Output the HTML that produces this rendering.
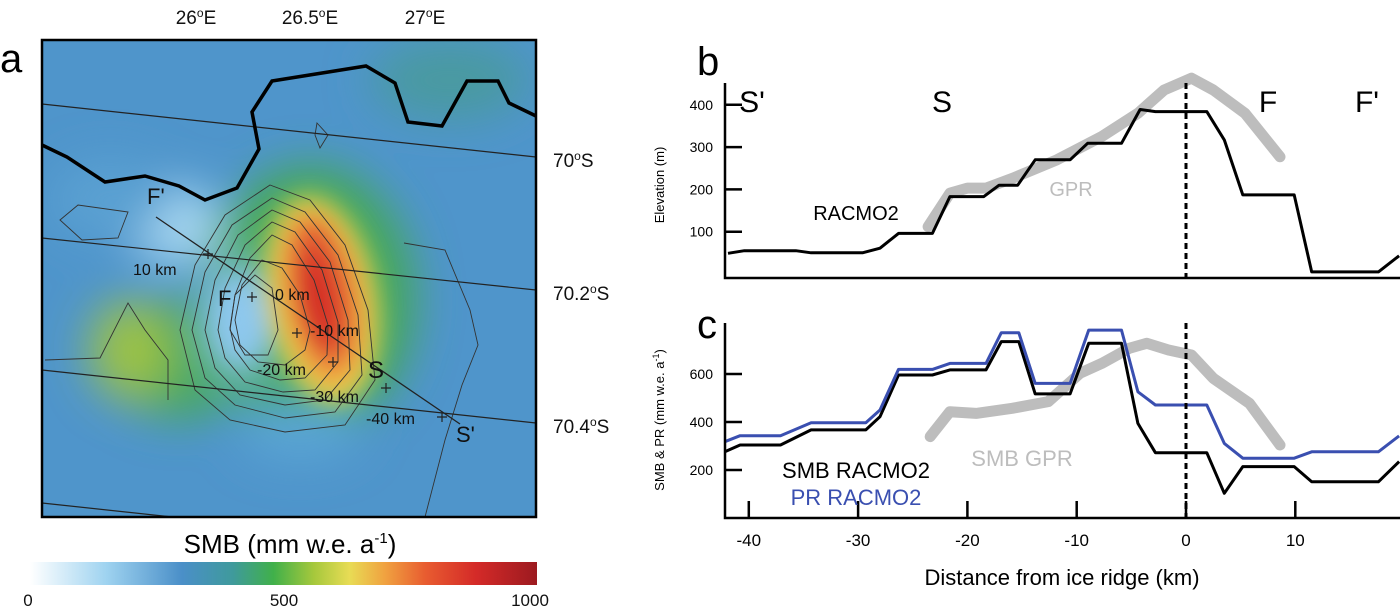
<!DOCTYPE html>
<html><head><meta charset="utf-8"><style>
body{margin:0;background:#fff;width:1400px;height:608px;overflow:hidden}
svg{display:block;font-family:"Liberation Sans",sans-serif}
</style></head><body>
<svg id="fig" width="1400" height="608" viewBox="0 0 1400 608">
<defs>
<filter id="blur" x="-50%" y="-50%" width="200%" height="200%"><feGaussianBlur stdDeviation="22"/></filter>
<filter id="blur2" x="-50%" y="-50%" width="200%" height="200%"><feGaussianBlur stdDeviation="12"/></filter>
<clipPath id="mapclip"><rect x="42" y="40" width="494" height="477"/></clipPath>
<linearGradient id="cbar" x1="0" x2="1" y1="0" y2="0">
<stop offset="0" stop-color="#ffffff"/><stop offset="0.15" stop-color="#9fd3f0"/><stop offset="0.3" stop-color="#4a8fc8"/>
<stop offset="0.4" stop-color="#3f9a9c"/><stop offset="0.48" stop-color="#40b04a"/><stop offset="0.56" stop-color="#a6c83c"/>
<stop offset="0.63" stop-color="#e8dc55"/><stop offset="0.7" stop-color="#f0a240"/><stop offset="0.78" stop-color="#e85c30"/>
<stop offset="0.88" stop-color="#d42a28"/><stop offset="1" stop-color="#9c1a20"/></linearGradient>
</defs>

<!-- Panel a -->
<text x="0" y="72" font-size="40">a</text>
<g>
<g clip-path="url(#mapclip)">
<rect x="42" y="40" width="494" height="477" fill="#4f95cb"/>
<g filter="url(#blur)">
<ellipse cx="450" cy="80" rx="80" ry="40" fill="#4a9aa0"/>
<ellipse cx="180" cy="360" rx="70" ry="60" fill="#46a860"/>
<ellipse cx="310" cy="300" rx="105" ry="135" fill="#45a856"/>
<ellipse cx="130" cy="350" rx="40" ry="50" fill="#9cc244"/>
<ellipse cx="175" cy="225" rx="45" ry="40" fill="#a8d8f2"/>
<ellipse cx="240" cy="320" rx="30" ry="55" fill="#8ec8ee"/>
<ellipse cx="110" cy="200" rx="60" ry="40" fill="#5aa0d2"/>
<ellipse cx="300" cy="430" rx="60" ry="30" fill="#5aa5d4"/>
</g>
<g filter="url(#blur2)">
<ellipse cx="322" cy="300" rx="55" ry="105" fill="#e8d850" transform="rotate(-10 322 300)"/>
<ellipse cx="322" cy="298" rx="42" ry="90" fill="#f0a040" transform="rotate(-10 322 298)"/>
<ellipse cx="322" cy="292" rx="30" ry="75" fill="#e35a30" transform="rotate(-10 322 292)"/>
<ellipse cx="318" cy="300" rx="18" ry="52" fill="#d42a28" transform="rotate(-10 318 300)"/>
<ellipse cx="240" cy="320" rx="22" ry="40" fill="#8ec8ee"/>
</g>
<g fill="none" stroke="#333" stroke-width="0.9">
<path d="M60,220 L78,205 L128,212 L118,238 L82,240 Z"/>
<path d="M317,123 L328,135 L320,148 L315,135 Z"/>
<path d="M45,360 L100,358 L128,303 L145,330 L168,360 L168,400"/>
<path d="M404,243 L445,250 L470,310 L478,345 L462,385 L445,440 L425,517"/>
<polygon points="270,185 310,200 345,245 368,310 375,380 345,425 285,432 230,420 195,390 180,330 195,265 225,215"/>
<polygon points="272,198 305,212 338,255 358,315 362,375 335,412 285,418 235,405 205,378 192,330 205,272 232,225"/>
<polygon points="272,210 300,222 330,262 348,320 350,370 325,400 285,405 240,395 215,368 205,330 215,280 238,235"/>
<polygon points="272,222 295,232 322,270 338,322 338,362 315,390 283,392 245,382 225,358 218,330 225,288 245,245"/>
<polygon points="272,235 292,245 314,280 328,325 327,355 305,378 280,380 250,370 235,350 230,328 235,295 250,258"/>
<polygon points="262,260 282,268 300,295 310,330 305,350 285,365 258,362 240,345 235,320 242,285"/>
<polygon points="255,275 272,288 278,330 268,355 245,355 230,330 235,295"/>
</g>
<g fill="none" stroke="#222" stroke-width="1.2">
<line x1="42" y1="104" x2="536" y2="157"/>
<line x1="42" y1="238" x2="536" y2="290"/>
<line x1="42" y1="370" x2="536" y2="423"/>
<line x1="42" y1="503" x2="536" y2="556"/>
</g>
<polyline fill="none" stroke="#000" stroke-width="3.5" points="42,145 67,157 105,182 145,176 179,186 205,200 237,188 259,149 252,112 272,81 366,66 395,83 408,122 442,126 467,81 498,81 509,103 536,116"/>
<line x1="156" y1="217" x2="460" y2="424" stroke="#222" stroke-width="1.3"/>
<g stroke="#222" stroke-width="1.2">
<path d="M203,254h10M208,249v10M247,297h10M252,292v10M292,333h10M297,328v10M328,362h10M333,357v10M381,388h10M386,383v10M437,417h10M442,412v10"/>
</g>
</g>
<rect x="42" y="40" width="494" height="477" fill="none" stroke="#000" stroke-width="2.5"/>
</g>
<g font-size="16" fill="#111">
<text x="147" y="204" font-size="22">F'</text>
<text x="133" y="275">10 km</text>
<text x="218" y="306" font-size="22">F</text>
<text x="275" y="300">0 km</text>
<text x="310" y="336">-10 km</text>
<text x="257" y="375">-20 km</text>
<text x="368" y="378" font-size="24">S</text>
<text x="310" y="402">-30 km</text>
<text x="366" y="424">-40 km</text>
<text x="456" y="442" font-size="22">S'</text>
</g>
<g font-size="19" fill="#111">
<text x="196" y="24" text-anchor="middle">26<tspan font-size="12" dy="-7">o</tspan><tspan dy="7">E</tspan></text>
<text x="310" y="24" text-anchor="middle">26.5<tspan font-size="12" dy="-7">o</tspan><tspan dy="7">E</tspan></text>
<text x="425" y="24" text-anchor="middle">27<tspan font-size="12" dy="-7">o</tspan><tspan dy="7">E</tspan></text>
<text x="553" y="167">70<tspan font-size="12" dy="-7">o</tspan><tspan dy="7">S</tspan></text>
<text x="553" y="300">70.2<tspan font-size="12" dy="-7">o</tspan><tspan dy="7">S</tspan></text>
<text x="553" y="433">70.4<tspan font-size="12" dy="-7">o</tspan><tspan dy="7">S</tspan></text>
</g>
<text x="290" y="553" font-size="26" text-anchor="middle">SMB (mm w.e. a<tspan font-size="15" dy="-10">-1</tspan><tspan dy="10">)</tspan></text>
<rect x="30" y="562" width="507" height="23" fill="url(#cbar)"/>
<g font-size="17" fill="#111" text-anchor="middle">
<text x="28" y="606">0</text><text x="284" y="606">500</text><text x="530" y="606">1000</text>
</g>

<!-- Panels b, c -->
<text x="697" y="75" font-size="40">b</text>
<text x="697" y="338" font-size="40">c</text>
<g id="charts"></g>
</svg>
<script>
const xTicks=[-40,-30,-20,-10,0,10];
const elevTicks=[100,200,300,400];
const smbTicks=[200,400,600];
const racmoElevKm=[-41.9,-40.4,-35.7,-34.3,-29.6,-28.0,-26.3,-23.2,-21.6,-18.5,-17.1,-15.4,-13.8,-10.6,-9.0,-5.9,-4.2,-2.8,1.9,3.5,5.2,9.9,11.5,17.6,19.5];
const racmoElev=[49,55,55,50,50,61,96,96,183,183,210,210,270,270,309,309,389,384,384,317,187,187,5,5,43];
const gprElevKm=[-23.6,-21.6,-20.0,-18.3,-15.9,-11.8,-7.7,-4.4,-2.0,0.5,2.5,5.4,8.6];
const gprElev=[112,191,203,203,226,270,325,380,435,463,435,380,277];
const smbKm=[-42.2,-40.8,-37.1,-34.3,-29.3,-28.0,-26.3,-23.2,-21.6,-18.3,-16.9,-15.3,-13.8,-10.6,-8.9,-5.9,-4.4,-2.8,1.9,3.5,5.2,9.9,11.5,17.6,19.5];
const smbRacmo=[276,304,304,367,367,422,596,596,617,617,735,735,517,517,728,728,394,272,272,103,214,214,151,151,235];
const prRacmo=[318,343,343,397,397,450,619,619,644,644,772,772,561,561,783,783,526,471,471,311,249,249,276,276,342];
const smbGprKm=[-23.4,-21.6,-19.2,-15.9,-12.6,-9.7,-7.7,-5.2,-3.6,-1.6,0.5,2.5,5.8,8.6];
const smbGpr=[339,443,436,457,485,603,644,707,728,700,679,582,478,304];

const NS='http://www.w3.org/2000/svg';
const root=document.getElementById('charts');
function X(km){return 1186+km*10.93;}
function Yb(v){return 274-v*0.423;}
function Yc(v){return 518-v*0.24;}
function mk(tag,attrs,parent){const e=document.createElementNS(NS,tag);for(const k in attrs)e.setAttribute(k,attrs[k]);(parent||root).appendChild(e);return e;}
function pts(xs,ys,fy){return xs.map((x,i)=>X(x).toFixed(1)+','+fy(ys[i]).toFixed(1)).join(' ');}

// panel b
let g=mk('g',{});


let l=mk('polyline',{points:pts(gprElevKm,gprElev,Yb),fill:'none',stroke:'#bdbdbd','stroke-width':11,'stroke-linecap':'round','stroke-linejoin':'round'},g);


l=mk('polyline',{points:pts(racmoElevKm,racmoElev,Yb),fill:'none',stroke:'#000','stroke-width':3,'stroke-linejoin':'round'},g);


l=mk('line',{x1:X(0),x2:X(0),y1:83,y2:278,stroke:'#000','stroke-width':3,'stroke-dasharray':'6,4'},g);


l=mk('path',{d:'M725,83V278H1400',fill:'none',stroke:'#000','stroke-width':2.5},g);


elevTicks.forEach(v=>{
  const t=mk('line',{x1:725,x2:742,y1:Yb(v),y2:Yb(v),stroke:'#000','stroke-width':2.5},g);
  
  
  const tx=mk('text',{x:713,y:Yb(v)+5,'font-size':14,'text-anchor':'end'},g);
  tx.textContent=v;
  
  
});
const labs=[["S'",752],["S",942],["F",1268],["F'",1367]];
labs.forEach(a=>{const t=mk('text',{x:a[1],y:112,'font-size':30,'text-anchor':'middle'},g);t.textContent=a[0];

});
let t=mk('text',{x:856,y:220,'font-size':20,'text-anchor':'middle'},g);t.textContent='RACMO2';


t=mk('text',{x:1071,y:196,'font-size':20,'text-anchor':'middle',fill:'#bdbdbd'},g);t.textContent='GPR';


t=mk('text',{x:0,y:0,'font-size':13,'text-anchor':'middle',transform:'translate(664,185) rotate(-90)'},g);t.textContent='Elevation (m)';



// panel c
g=mk('g',{});


l=mk('polyline',{points:pts(smbGprKm,smbGpr,Yc),fill:'none',stroke:'#bdbdbd','stroke-width':11,'stroke-linecap':'round','stroke-linejoin':'round'},g);


l=mk('polyline',{points:pts(smbKm,smbRacmo,Yc),fill:'none',stroke:'#000','stroke-width':3,'stroke-linejoin':'round'},g);


l=mk('polyline',{points:pts(smbKm,prRacmo,Yc),fill:'none',stroke:'#3a4fb0','stroke-width':3,'stroke-linejoin':'round'},g);


l=mk('line',{x1:X(0),x2:X(0),y1:323,y2:518,stroke:'#000','stroke-width':3,'stroke-dasharray':'6,4'},g);


l=mk('path',{d:'M725,323V518H1400',fill:'none',stroke:'#000','stroke-width':2.5},g);


smbTicks.forEach(v=>{
  const tk=mk('line',{x1:725,x2:742,y1:Yc(v),y2:Yc(v),stroke:'#000','stroke-width':2.5},g);
  
  
  const tx=mk('text',{x:713,y:Yc(v)+5,'font-size':14,'text-anchor':'end'},g);
  tx.textContent=v;
  
  
});
xTicks.forEach(v=>{
  const tk=mk('line',{x1:X(v),x2:X(v),y1:518,y2:501,stroke:'#000','stroke-width':2.5},g);
  
  
  const tx=mk('text',{x:X(v),y:546,'font-size':17,'text-anchor':'middle'},g);
  tx.textContent=v;
  
  
});
t=mk('text',{x:856,y:478,'font-size':22,'text-anchor':'middle'},g);t.textContent='SMB RACMO2';


t=mk('text',{x:856,y:505,'font-size':22,'text-anchor':'middle',fill:'#3a4fb0'},g);t.textContent='PR RACMO2';


t=mk('text',{x:1022,y:466,'font-size':22,'text-anchor':'middle',fill:'#bdbdbd'},g);t.textContent='SMB GPR';


t=mk('text',{x:1062,y:585,'font-size':22,'text-anchor':'middle'},g);t.textContent='Distance from ice ridge (km)';


t=mk('text',{x:0,y:0,'font-size':13,'text-anchor':'middle',transform:'translate(664,420) rotate(-90)'},g);
t.innerHTML='SMB &amp; PR (mm w.e. a<tspan font-size="9" dy="-5">-1</tspan><tspan dy="5">)</tspan>';


</script>
</body></html>
